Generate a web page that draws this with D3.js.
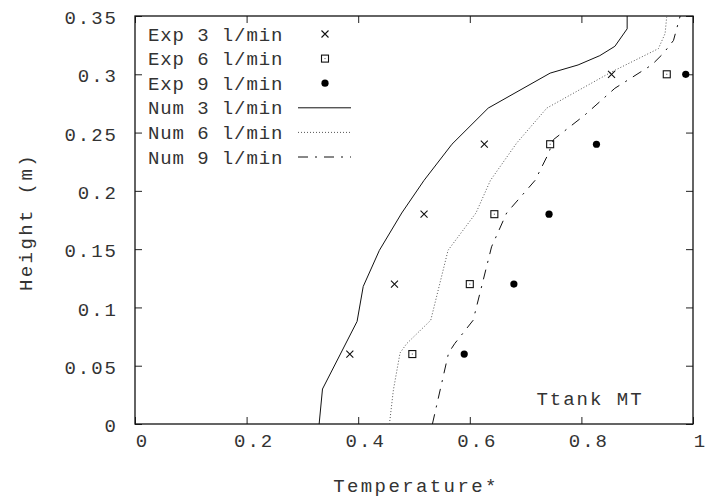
<!DOCTYPE html>
<html>
<head>
<meta charset="utf-8">
<script src="https://cdn.jsdelivr.net/npm/d3@7"></script>
<style>
  body { margin: 0; background: #fff; }
  text { font-family: "Liberation Mono", "DejaVu Sans Mono", monospace; fill: #333; }
</style>
</head>
<body>
<div class="chart"></div>
<script>
// experimental points (same heights for every flow rate)
var expHeight = [0.06, 0.12, 0.18, 0.24, 0.30];
var exp3 = [0.385, 0.465, 0.518, 0.626, 0.854];
var exp6 = [0.497, 0.600, 0.644, 0.744, 0.953];
var exp9 = [0.590, 0.679, 0.742, 0.827, 0.987];

// numerical profiles
var num3T = [0.330, 0.336, 0.398, 0.409, 0.438, 0.478, 0.518, 0.568, 0.633, 0.744, 0.794, 0.833, 0.860, 0.882, 0.882];
var num3H = [0, 0.030, 0.088, 0.118, 0.149, 0.181, 0.209, 0.240, 0.271, 0.301, 0.308, 0.316, 0.324, 0.339, 0.35];
var num6T = [0.456, 0.463, 0.475, 0.487, 0.530, 0.561, 0.611, 0.637, 0.684, 0.738, 0.854, 0.938, 0.950, 0.953];
var num6H = [0, 0.029, 0.061, 0.069, 0.089, 0.149, 0.181, 0.209, 0.241, 0.271, 0.302, 0.322, 0.335, 0.35];
var num9T = [0.533, 0.562, 0.573, 0.606, 0.639, 0.666, 0.717, 0.741, 0.750, 0.806, 0.860, 0.926, 0.947, 0.965, 0.977];
var num9H = [0, 0.061, 0.069, 0.089, 0.152, 0.181, 0.209, 0.232, 0.244, 0.265, 0.288, 0.308, 0.318, 0.329, 0.35];

var xTicks = [0, 0.2, 0.4, 0.6, 0.8, 1];
var xTickLabels = ["0", "0.2", "0.4", "0.6", "0.8", "1"];
var yTicks = [0, 0.05, 0.1, 0.15, 0.2, 0.25, 0.3, 0.35];
var yTickLabels = ["0", "0.05", "0.1", "0.15", "0.2", "0.25", "0.3", "0.35"];

var legendNames = ["Exp 3 l/min", "Exp 6 l/min", "Exp 9 l/min", "Num 3 l/min", "Num 6 l/min", "Num 9 l/min"];

var svg = d3.select(".chart").append("svg").attr("width", 706).attr("height", 502),
    margin = {top: 16, right: 13, bottom: 78, left: 135},
    width = 706 - margin.left - margin.right,
    height = 502 - margin.top - margin.bottom,
    x = d3.scaleLinear().domain([0, 1]).range([0, width]),
    y = d3.scaleLinear().domain([0, 0.35]).range([height, 0]),
    g = svg.append("g").attr("transform", `translate(${margin.left},${margin.top})`);

var tickLen = 7;

// axes with inward ticks, mirrored on top / right
var axB = g.append("g").attr("transform", `translate(0,${height})`)
    .call(d3.axisBottom(x).tickValues(xTicks).tickSizeInner(-tickLen).tickSizeOuter(0)
        .tickFormat((d, i) => xTickLabels[i]));
axB.selectAll("text").attr("dy", "1.05em").attr("dx", 7);

var axT = g.append("g")
    .call(d3.axisTop(x).tickValues(xTicks).tickSizeInner(-tickLen).tickSizeOuter(0).tickFormat(""));

var axL = g.append("g")
    .call(d3.axisLeft(y).tickValues(yTicks).tickSizeInner(-tickLen).tickSizeOuter(0)
        .tickFormat((d, i) => yTickLabels[i]));
axL.selectAll("text").attr("x", -17).attr("dy", "0.4em");

var axR = g.append("g").attr("transform", `translate(${width},0)`)
    .call(d3.axisRight(y).tickValues(yTicks).tickSizeInner(-tickLen).tickSizeOuter(0).tickFormat(""));

g.selectAll(".domain").remove();
g.selectAll(".tick line").attr("stroke", "#222");
g.selectAll(".tick text").style("font-size", "19px").style("letter-spacing", "2px").attr("fill", "#333");

g.append("rect")
    .attr("width", width).attr("height", height)
    .attr("fill", "none").attr("stroke", "#111").attr("stroke-width", 1.3);

// numerical curves
var line = d3.line().x(d => x(d[0])).y(d => y(d[1]));
var numStyles = [
  {dash: null, color: "#111", w: 1},
  {dash: "1,2", color: "#555", w: 1},
  {dash: "10,7,2,7", color: "#111", w: 1}
];
var numData = [d3.zip(num3T, num3H), d3.zip(num6T, num6H), d3.zip(num9T, num9H)];

g.selectAll(".num")
  .data(numData)
  .enter().append("path")
    .attr("class", "num")
    .attr("d", line)
    .attr("fill", "none")
    .attr("stroke", (d, i) => numStyles[i].color)
    .attr("stroke-width", (d, i) => numStyles[i].w)
    .attr("stroke-dasharray", (d, i) => numStyles[i].dash);

// point symbols
function drawCross(sel, cx, cy) {
  sel.append("path")
    .attr("d", `M${cx-3.5},${cy-3.5}L${cx+3.5},${cy+3.5}M${cx-3.5},${cy+3.5}L${cx+3.5},${cy-3.5}`)
    .attr("stroke", "#111").attr("stroke-width", 1.1).attr("fill", "none");
}
function drawBox(sel, cx, cy) {
  sel.append("rect").attr("x", cx - 3.5).attr("y", cy - 3.5).attr("width", 7).attr("height", 7)
    .attr("fill", "none").attr("stroke", "#111").attr("stroke-width", 1.1);
  sel.append("rect").attr("x", cx - 0.5).attr("y", cy - 0.5).attr("width", 1).attr("height", 1)
    .attr("fill", "#444");
}
function drawDot(sel, cx, cy) {
  sel.append("circle").attr("cx", cx).attr("cy", cy).attr("r", 3.6).attr("fill", "#000");
}
var drawers = [drawCross, drawBox, drawDot];
var expData = [exp3, exp6, exp9];

expData.forEach((series, k) => {
  var pg = g.append("g").attr("class", "exp" + k);
  series.forEach((t, i) => drawers[k](pg, x(t), y(expHeight[i])));
});

// legend
var leg = svg.append("g").attr("transform", "translate(148,0)");
legendNames.forEach((name, i) => {
  var yy = 34 + i * 24.6;
  leg.append("text").attr("x", 0).attr("y", yy).attr("dy", "0.35em")
    .style("font-size", "19px").style("letter-spacing", "0.9px").text(name);
  if (i < 3) {
    drawers[i](leg, 177, yy);
  } else {
    var s = numStyles[i - 3];
    leg.append("line").attr("x1", 150).attr("x2", 203).attr("y1", yy).attr("y2", yy)
      .attr("stroke", s.color).attr("stroke-width", s.w).attr("stroke-dasharray", s.dash);
  }
});

// labels
svg.append("text").attr("x", 590).attr("y", 405).attr("text-anchor", "middle")
  .style("font-size", "19px").style("letter-spacing", "2px").text("Ttank MT");

svg.append("text").attr("x", 416).attr("y", 492).attr("text-anchor", "middle")
  .style("font-size", "19px").style("letter-spacing", "2.4px").text("Temperature*");

svg.append("text").attr("transform", "translate(32,222) rotate(-90)").attr("text-anchor", "middle")
  .style("font-size", "19px").style("letter-spacing", "2.4px").text("Height (m)");
</script>
</body>
</html>
